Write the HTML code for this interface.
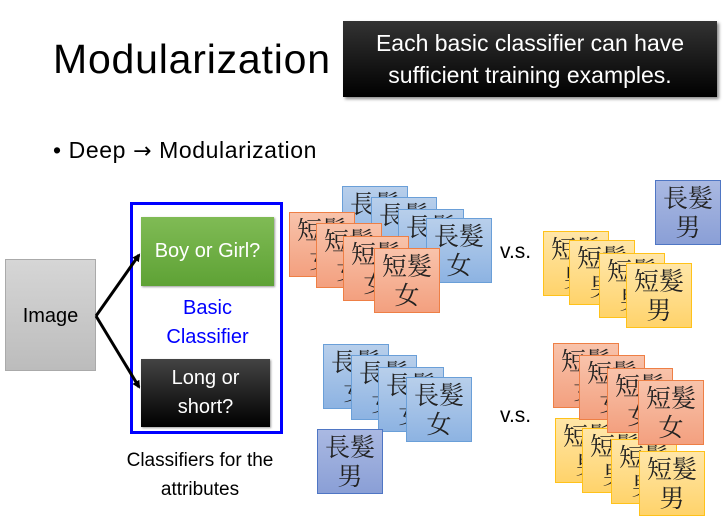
<!DOCTYPE html>
<html><head><meta charset="utf-8"><style>
body{margin:0;width:726px;height:524px;background:#fff;position:relative;overflow:hidden;font-family:"Liberation Sans",sans-serif}
.a{position:absolute}
.c{position:absolute;width:64px;border:1.5px solid;text-align:center;font-family:"Liberation Serif","Noto Serif CJK SC",serif;font-size:25px;line-height:29px;padding-top:4px;box-sizing:content-box;height:59px;color:#222}
.b{background:linear-gradient(#b8cfeb,#8db3e2);border-color:#6a9fd8}
.o{background:linear-gradient(#f8c3ab,#f3a07f);border-color:#ee7f45}
.y{background:linear-gradient(#ffe6a8,#ffd36b);border-color:#ffc21a}
.p{background:linear-gradient(#aab9e2,#8a9fd6);border-color:#4f76c4}
.vs{position:absolute;font-size:21px;color:#000}
</style></head><body>
<div class="a" style="left:53px;top:36px;font-size:41px;letter-spacing:0.8px;font-weight:300">Modularization</div>
<div class="a" style="left:343px;top:21px;width:374px;height:76px;background:linear-gradient(#333,#000);box-shadow:2px 2px 3px #888;color:#fff;font-size:23px;text-align:center;line-height:32px;padding-top:6px;box-sizing:border-box">Each basic classifier can have<br>sufficient training examples.</div>
<div class="a" style="left:53px;top:137px;font-size:23px;letter-spacing:0.6px">• Deep <span style="font-family:'DejaVu Sans',sans-serif;font-size:22px">→</span> Modularization</div>

<div class="a" style="left:5px;top:259px;width:91px;height:112px;background:linear-gradient(#d6d6d6,#bcbcbc);border:1px solid #aaa;box-sizing:border-box;font-size:20px;text-align:center;line-height:112px">Image</div>
<div class="a" style="left:130px;top:202px;width:153px;height:232px;border:3px solid #0000ff;box-sizing:border-box"></div>
<div class="a" style="left:141px;top:217px;width:133px;height:69px;background:linear-gradient(#80bb55,#5ea235);box-shadow:1px 1px 2px #999;color:#fff;font-size:20px;text-align:center;line-height:69px">Boy or Girl?</div>
<div class="a" style="left:141px;top:359px;width:129px;height:68px;background:linear-gradient(#444,#000);box-shadow:1px 1px 2px #999;color:#fff;font-size:20px;text-align:center;line-height:29px;padding-top:5px;box-sizing:border-box">Long or<br>short?</div>
<div class="a" style="left:141px;top:294px;width:133px;color:#0000ff;font-size:20px;text-align:center;line-height:29px">Basic<br>Classifier</div>
<div class="a" style="left:100px;top:446px;width:200px;font-size:19px;text-align:center;line-height:29px">Classifiers for the<br>attributes</div>
<svg class="a" style="left:0;top:0" width="726" height="524">
<defs><marker id="m" markerWidth="8" markerHeight="8" refX="6" refY="4" orient="auto" markerUnits="userSpaceOnUse"><path d="M0,0 L8,4 L0,8 z" fill="#000"/></marker></defs>
<line x1="96" y1="316" x2="139" y2="255" stroke="#000" stroke-width="3" marker-end="url(#m)"/>
<line x1="96" y1="316" x2="139" y2="387" stroke="#000" stroke-width="3" marker-end="url(#m)"/>
</svg>

<div class="c b" style="left:342px;top:186px">長髮<br>女</div>
<div class="c b" style="left:371px;top:197px">長髮<br>女</div>
<div class="c b" style="left:398px;top:209px">長髮<br>女</div>
<div class="c b" style="left:426px;top:218px">長髮<br>女</div>
<div class="c o" style="left:289px;top:212px">短髮<br>女</div>
<div class="c o" style="left:316px;top:223px">短髮<br>女</div>
<div class="c o" style="left:343px;top:236px">短髮<br>女</div>
<div class="c o" style="left:374px;top:248px">短髮<br>女</div>
<div class="vs" style="left:500px;top:240px">v.s.</div>
<div class="c p" style="left:655px;top:180px">長髮<br>男</div>
<div class="c y" style="left:543px;top:231px">短髮<br>男</div>
<div class="c y" style="left:569px;top:240px">短髮<br>男</div>
<div class="c y" style="left:599px;top:253px">短髮<br>男</div>
<div class="c y" style="left:626px;top:263px">短髮<br>男</div>

<div class="c b" style="left:323px;top:344px">長髮<br>女</div>
<div class="c b" style="left:351px;top:355px">長髮<br>女</div>
<div class="c b" style="left:378px;top:367px">長髮<br>女</div>
<div class="c b" style="left:406px;top:377px">長髮<br>女</div>
<div class="c p" style="left:317px;top:429px">長髮<br>男</div>
<div class="vs" style="left:500px;top:404px">v.s.</div>
<div class="c o" style="left:553px;top:343px">短髮<br>女</div>
<div class="c y" style="left:555px;top:418px">短髮<br>男</div>
<div class="c o" style="left:579px;top:355px">短髮<br>女</div>
<div class="c y" style="left:582px;top:428px">短髮<br>男</div>
<div class="c o" style="left:607px;top:368px">短髮<br>女</div>
<div class="c y" style="left:611px;top:439px">短髮<br>男</div>
<div class="c o" style="left:638px;top:380px">短髮<br>女</div>
<div class="c y" style="left:639px;top:451px">短髮<br>男</div>
</body></html>
